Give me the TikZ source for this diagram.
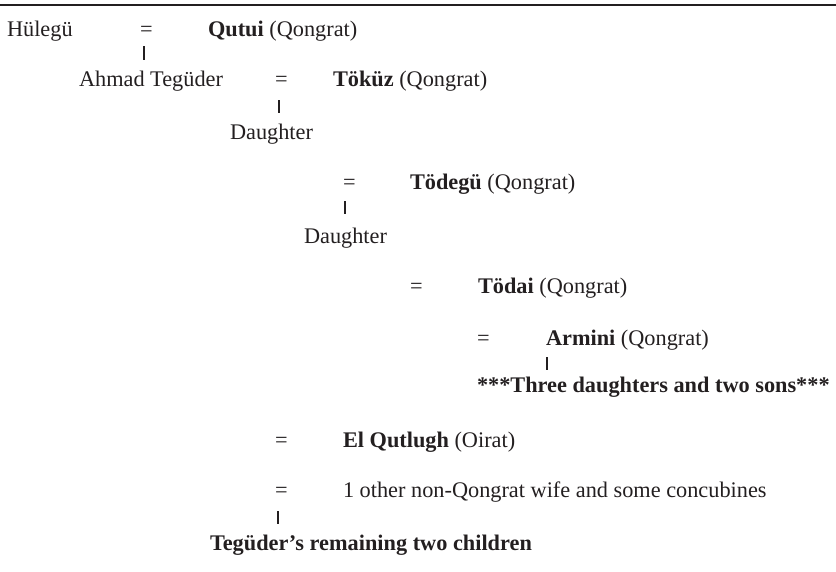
\documentclass[tikz,border=0pt]{standalone}
\usepackage{fontspec}
\setmainfont{Liberation Serif}
\definecolor{ink}{HTML}{231F20}
\begin{document}
\begin{tikzpicture}[x=1pt,y=-1pt,
  txt/.style={anchor=base west,inner sep=0pt,outer sep=0pt,text=ink,font=\fontsize{22.3}{26}\selectfont},
  bar/.style={draw=ink,line width=2pt}]
\useasboundingbox (0,0) rectangle (836,571);
\draw[draw=ink,line width=1.2pt] (0,5) -- (836,5);
% row 1
\node[txt] (hul) at (7,36) {Hülegü};
\node[txt] (eq1) at (140,36) {=};
\node[txt] (qut) at (208,36) {\textbf{Qutui} (Qongrat)};
\draw[bar] (143.5,46) coordinate (b1a) -- (143.5,60) coordinate (b1b);
% row 2
\node[txt] (ahm) at (79,86) {Ahmad Tegüder};
\node[txt] (eq2) at (275,86) {=};
\node[txt] (tok) at (333,86) {\textbf{Töküz} (Qongrat)};
\draw[bar] (278.5,100) coordinate (b2a) -- (278.5,113) coordinate (b2b);
\node[txt] (dau1) at (230,139) {Daughter};
% row 3
\node[txt] (eq3) at (343,189) {=};
\node[txt] (tod) at (410,189) {\textbf{Tödegü} (Qongrat)};
\draw[bar] (345,201) coordinate (b3a) -- (345,214) coordinate (b3b);
\node[txt] (dau2) at (304,243) {Daughter};
% row 4
\node[txt] (eq4) at (410,293) {=};
\node[txt] (tda) at (478,293) {\textbf{Tödai} (Qongrat)};
% row 5
\node[txt] (eq5) at (477,345) {=};
\node[txt] (arm) at (546,345) {\textbf{Armini} (Qongrat)};
\draw[bar] (547,357) coordinate (b4a) -- (547,370) coordinate (b4b);
\node[txt] (thr) at (477,392) {\textbf{***Three daughters and two sons***}};
% row 6
\node[txt] (eq6) at (275,447) {=};
\node[txt] (elq) at (343,447) {\textbf{El Qutlugh} (Oirat)};
% row 7
\node[txt] (eq7) at (275,497) {=};
\node[txt] (oth) at (343,497) {1 other non-Qongrat wife and some concubines};
\draw[bar] (277.5,511) coordinate (b5a) -- (277.5,524) coordinate (b5b);
\node[txt] (rem) at (210,550) {\textbf{Tegüder’s remaining two children}};
\end{tikzpicture}
\end{document}
